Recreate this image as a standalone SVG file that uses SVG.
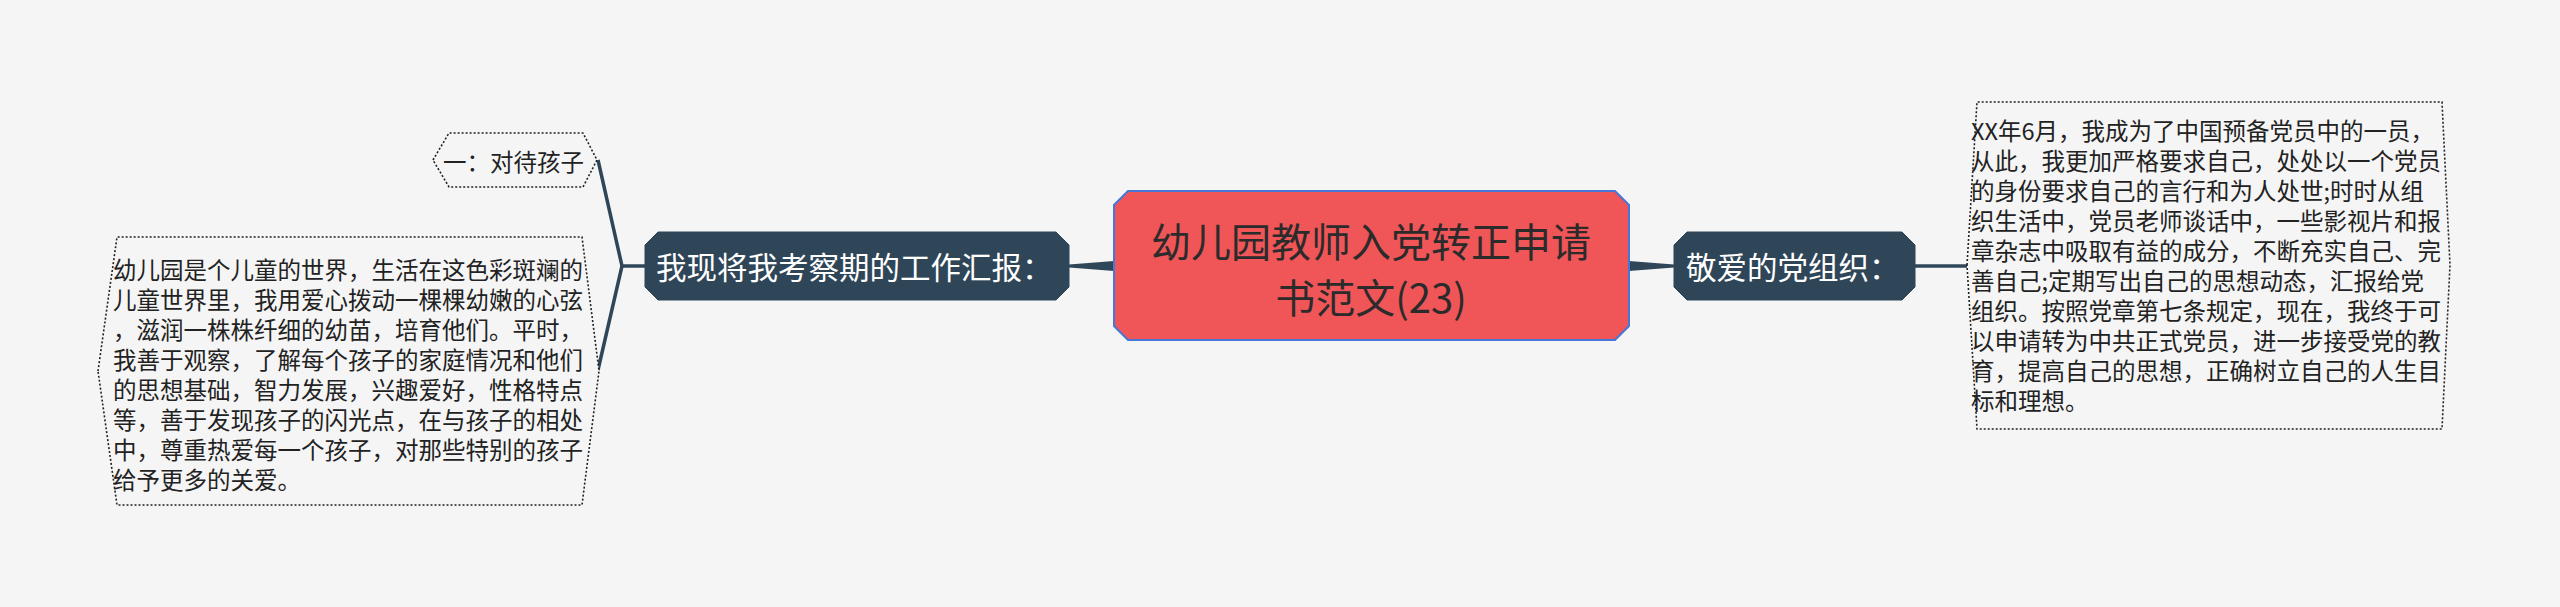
<svg xmlns="http://www.w3.org/2000/svg" width="2560" height="607" viewBox="0 0 2560 607">
<style>
.bg{fill:#f5f5f5}
.root{fill:#f05558;stroke:#4777d6;stroke-width:2}
.branch{fill:#2f4659;stroke:#2f4659;stroke-width:1}
.leaf{fill:#f5f5f5;stroke:#222;stroke-width:1.6;stroke-dasharray:2 2}
.t{font-family:"Noto Sans CJK SC","Noto Sans",sans-serif}
.rt{font-size:40px;fill:#2b2b2b}
.bt{font-size:30.5px;fill:#ffffff}
.lt{font-size:23.5px;fill:#222}
.line{fill:none;stroke:#2f4659;stroke-width:3.5}
.taper{fill:#2f4659}
</style>
<rect class="bg" x="0" y="0" width="2560" height="607"/>
<g id="connectors">
<polygon class="taper" points="1114,261 1114,271 1069,267.5 1069,264.5"/>
<polygon class="taper" points="1629,261 1629,271 1674,267.5 1674,264.5"/>
<polyline class="line" points="645,266 622,266 598,160"/>
<polyline class="line" points="622,266 598,370"/>
<line class="line" x1="1915" y1="266" x2="1967" y2="266"/>
</g>
<g id="root">
<polygon class="root" points="1128,191 1615,191 1629,205 1629,326 1615,340 1128,340 1114,326 1114,205"/>
<text class="t rt" x="1371" y="257" text-anchor="middle">幼儿园教师入党转正申请</text>
<text class="t rt" x="1371" y="313" text-anchor="middle">书范文(23)</text>
</g>
<g id="branch-left">
<polygon class="branch" points="658,232 1056,232 1069,245 1069,287 1056,300 658,300 645,287 645,245"/>
<text class="t bt" x="656" y="279">我现将我考察期的工作汇报：</text>
</g>
<g id="branch-right">
<polygon class="branch" points="1687,232 1902,232 1915,245 1915,287 1902,300 1687,300 1674,287 1674,245"/>
<text class="t bt" x="1686" y="279">敬爱的党组织：</text>
</g>
<g id="leaf-top">
<polygon class="leaf" points="433,160 449,133 583,133 597,160 583,187 449,187"/>
<text class="t lt" x="443" y="171">一：对待孩子</text>
</g>
<g id="leaf-bottom">
<polygon class="leaf" points="98,371 117,237 582,237 599,371 582,505 117,505"/>
<text class="t lt" x="113" y="279">幼儿园是个儿童的世界，生活在这色彩斑斓的</text>
<text class="t lt" x="113" y="309">儿童世界里，我用爱心拨动一棵棵幼嫩的心弦</text>
<text class="t lt" x="113" y="339">，滋润一株株纤细的幼苗，培育他们。平时，</text>
<text class="t lt" x="113" y="369">我善于观察，了解每个孩子的家庭情况和他们</text>
<text class="t lt" x="113" y="399">的思想基础，智力发展，兴趣爱好，性格特点</text>
<text class="t lt" x="113" y="429">等，善于发现孩子的闪光点，在与孩子的相处</text>
<text class="t lt" x="113" y="459">中，尊重热爱每一个孩子，对那些特别的孩子</text>
<text class="t lt" x="113" y="489">给予更多的关爱。</text>
</g>
<g id="leaf-right">
<polygon class="leaf" points="1967,265 1977,102 2442,102 2450,265 2442,429 1977,429"/>
<text class="t lt" x="1971" y="140">XX年6月，我成为了中国预备党员中的一员，</text>
<text class="t lt" x="1971" y="170">从此，我更加严格要求自己，处处以一个党员</text>
<text class="t lt" x="1971" y="200">的身份要求自己的言行和为人处世;时时从组</text>
<text class="t lt" x="1971" y="230">织生活中，党员老师谈话中，一些影视片和报</text>
<text class="t lt" x="1971" y="260">章杂志中吸取有益的成分，不断充实自己、完</text>
<text class="t lt" x="1971" y="290">善自己;定期写出自己的思想动态，汇报给党</text>
<text class="t lt" x="1971" y="320">组织。按照党章第七条规定，现在，我终于可</text>
<text class="t lt" x="1971" y="350">以申请转为中共正式党员，进一步接受党的教</text>
<text class="t lt" x="1971" y="380">育，提高自己的思想，正确树立自己的人生目</text>
<text class="t lt" x="1971" y="410">标和理想。</text>
</g>
</svg>
